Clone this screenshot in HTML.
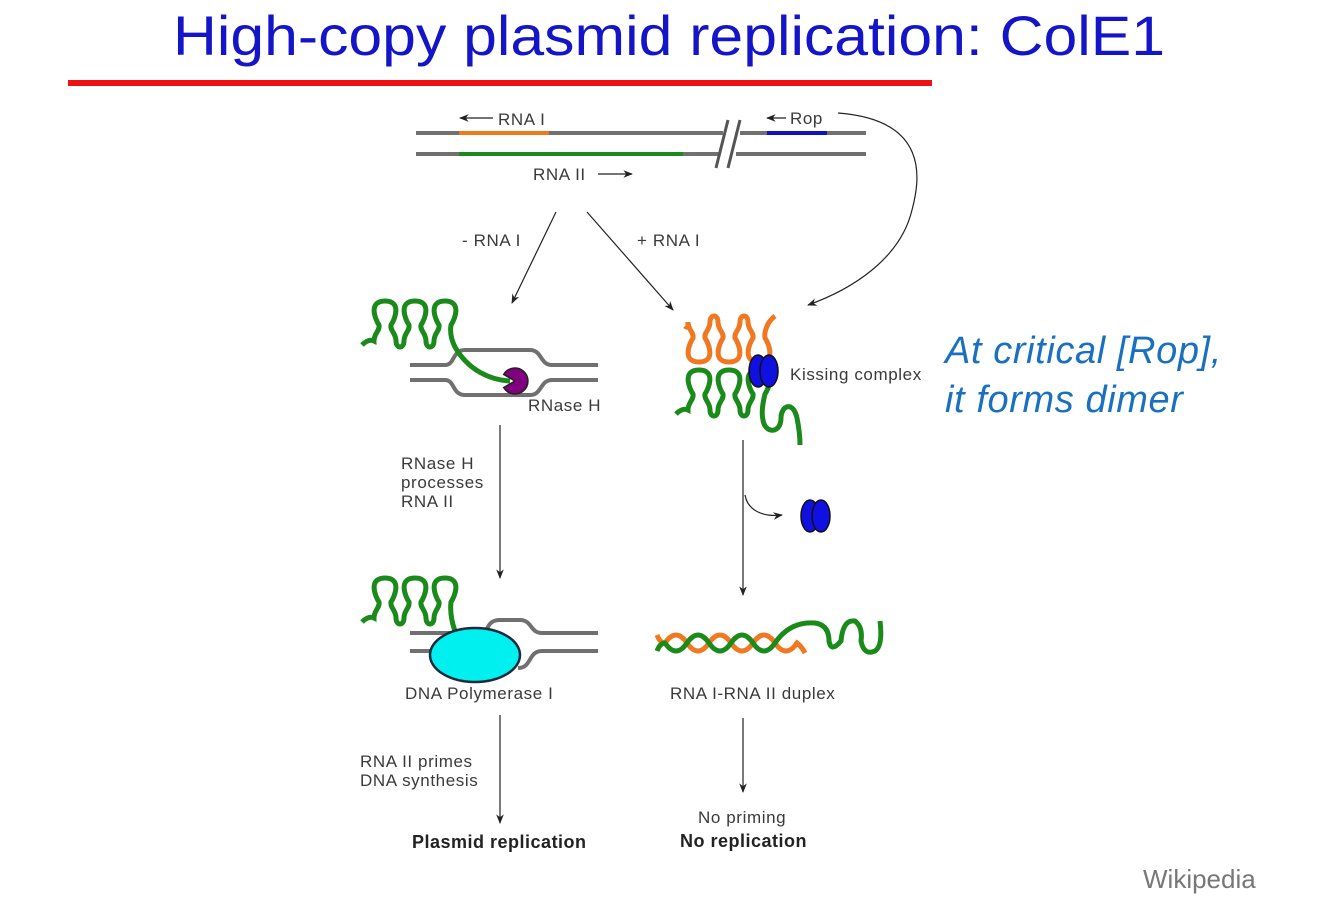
<!DOCTYPE html>
<html><head><meta charset="utf-8"><style>
body{margin:0;background:#fff}
svg{display:block}
text{font-family:"Liberation Sans",sans-serif}
.l{font-size:17px;fill:#3a3a3a;letter-spacing:0.6px}
.b{font-size:18px;font-weight:bold;fill:#222;letter-spacing:0.5px}
</style></head><body>
<svg width="1334" height="909" viewBox="0 0 1334 909">
<defs>
<marker id="a" viewBox="0 0 10 10" refX="9" refY="5" markerWidth="8" markerHeight="8" orient="auto"><path d="M0,1 L10,5 L0,9 L3,5z" fill="#222"/></marker>
</defs>
<text x="173" y="55" textLength="992" lengthAdjust="spacingAndGlyphs" style="font-size:56px;fill:#1414c8">High-copy plasmid replication: ColE1</text>
<rect x="68" y="80" width="864" height="6" fill="#ee1111"/>

<g stroke="#707070" stroke-width="4">
<line x1="416" y1="133" x2="723" y2="133"/><line x1="416" y1="154" x2="719" y2="154"/>
<line x1="740" y1="133" x2="866" y2="133"/><line x1="736" y1="154" x2="866" y2="154"/>
</g>
<g stroke="#555" stroke-width="3"><line x1="716" y1="168" x2="728" y2="120"/><line x1="728" y1="168" x2="740" y2="120"/></g>
<line x1="459" y1="133" x2="549" y2="133" stroke="#f07820" stroke-width="4"/>
<line x1="459" y1="154" x2="683" y2="154" stroke="#1a8a1a" stroke-width="4"/>
<line x1="767" y1="133" x2="827" y2="133" stroke="#1010c0" stroke-width="4"/>
<g stroke="#222" stroke-width="1.2" fill="none">
<line x1="493" y1="118" x2="460" y2="118" marker-end="url(#a)"/>
<line x1="786" y1="118" x2="767" y2="118" marker-end="url(#a)"/>
<line x1="598" y1="174" x2="632" y2="174" marker-end="url(#a)"/>
<line x1="556" y1="212" x2="512" y2="303" marker-end="url(#a)"/>
<line x1="587" y1="212" x2="673" y2="310" marker-end="url(#a)"/>
<path d="M838,113 C930,120 920,180 912,210 C900,260 850,290 808,305" marker-end="url(#a)"/>
<line x1="500" y1="425" x2="500" y2="578" marker-end="url(#a)"/>
<line x1="743" y1="440" x2="743" y2="595" marker-end="url(#a)"/>
<path d="M745,495 C748,512 765,517 782,515" marker-end="url(#a)"/>
<line x1="500" y1="715" x2="500" y2="823" marker-end="url(#a)"/>
<line x1="743" y1="718" x2="743" y2="792" marker-end="url(#a)"/>
</g>
<text class="l" x="498" y="125">RNA I</text>
<text class="l" x="790" y="124">Rop</text>
<text class="l" x="533" y="180">RNA II</text>
<text class="l" x="462" y="246">- RNA I</text>
<text class="l" x="637" y="246">+ RNA I</text>

<g stroke="#707070" stroke-width="4" fill="none">
<path d="M410,365 H445 C455,365 452,350 465,350 H530 C542,350 540,365 552,365 H598"/>
<path d="M410,380 H445 C455,380 452,395 465,395 H530 C542,395 540,380 552,380 H598"/>
</g>
<path d="M362,345 c4,-4 8,-6 12,-4 c0,-8 6,-10 5,-16 c-4,-6 -11,-24 6,-24 c17,0 10,18 6,24 c-1,6 5,8 5,16 c0,8 8,8 8,0 c0,-8 6,-10 5,-16 c-4,-6 -11,-24 6,-24 c17,0 10,18 6,24 c-1,6 5,8 5,16 c0,8 8,8 8,0 c0,-8 6,-10 5,-16 c-4,-6 -11,-24 6,-24 c17,0 10,18 6,24 c-1,6 0,14 4,22 C468,370 490,380 510,381" stroke="#1a8a1a" stroke-width="5" fill="none"/>
<path d="M515,381 L503.7,374.5 A13,13 0 1 1 503.7,387.5 Z" fill="#800080" stroke="#222" stroke-width="1.5"/>
<text class="l" x="528" y="411">RNase H</text>
<text class="l" x="401" y="469">RNase H</text>
<text class="l" x="401" y="488">processes</text>
<text class="l" x="401" y="507">RNA II</text>

<g transform="translate(688,322) scale(1,-1)">
<path d="M-3,-4 c2,-2 3,-2 3,4 c0,-8 6,-10 5,-16 c-4,-6 -11,-24 6,-24 c17,0 10,18 6,24 c-1,6 5,8 5,16 c0,8 8,8 8,0 c0,-8 6,-10 5,-16 c-4,-6 -11,-24 6,-24 c17,0 10,18 6,24 c-1,6 5,8 5,16 c0,8 8,8 8,0 c0,-8 6,-10 5,-16 c-4,-6 -11,-24 6,-24 c17,0 10,18 6,24 c-1,6 2,16 10,22" stroke="#f07820" stroke-width="5" fill="none"/>
</g>
<path d="M676,414 c4,-4 8,-6 12,-4 c0,-8 6,-10 5,-16 c-4,-6 -11,-24 6,-24 c17,0 10,18 6,24 c-1,6 5,8 5,16 c0,8 8,8 8,0 c0,-8 6,-10 5,-16 c-4,-6 -11,-24 6,-24 c17,0 10,18 6,24 c-1,6 5,8 5,16 c0,8 8,8 8,0 c0,-8 6,-10 5,-16 c-4,-6 -11,-24 6,-24 c17,0 10,18 6,24 c-2,8 -4,18 -2,26 c2,14 18,14 18,-2 c0,-12 12,-18 16,0 c2,10 3,20 3,27" stroke="#1a8a1a" stroke-width="5" fill="none"/>
<g fill="#1010e0" stroke="#111" stroke-width="1.5">
<ellipse cx="758" cy="371" rx="9" ry="16"/><ellipse cx="769" cy="371" rx="9" ry="16"/>
<ellipse cx="810" cy="516" rx="9" ry="16"/><ellipse cx="821" cy="516" rx="9" ry="16"/>
</g>
<text class="l" x="790" y="380">Kissing complex</text>
<text x="945" y="363" style="font-size:38px;font-style:italic;fill:#1a70c0;letter-spacing:0.6px">At critical [Rop],</text>
<text x="945" y="412" style="font-size:38px;font-style:italic;fill:#1a70c0;letter-spacing:0.6px">it forms dimer</text>

<g stroke="#707070" stroke-width="4" fill="none">
<path d="M410,633 H480 C490,633 485,620 500,620 H520 C532,620 530,633 542,633 H598"/>
<path d="M410,651 H480 M518,668 C532,668 528,651 542,651 H598"/>
</g>
<path d="M362,622 c4,-4 8,-6 12,-4 c0,-8 6,-10 5,-16 c-4,-6 -11,-24 6,-24 c17,0 10,18 6,24 c-1,6 5,8 5,16 c0,8 8,8 8,0 c0,-8 6,-10 5,-16 c-4,-6 -11,-24 6,-24 c17,0 10,18 6,24 c-1,6 5,8 5,16 c0,8 8,8 8,0 c0,-8 6,-10 5,-16 c-4,-6 -11,-24 6,-24 c17,0 10,18 6,24 c-1,8 0,26 10,40" stroke="#1a8a1a" stroke-width="5" fill="none"/>
<ellipse cx="475" cy="655" rx="45" ry="27" fill="#00f0f0" stroke="#1a2a3a" stroke-width="2.5"/>
<text class="l" x="405" y="699">DNA Polymerase I</text>
<text class="l" x="360" y="767">RNA II primes</text>
<text class="l" x="360" y="786">DNA synthesis</text>
<text class="b" x="412" y="848">Plasmid replication</text>

<path d="M657,635 q3,8 8,8 q11,-16 22,0 q11,16 22,0 q11,-16 22,0 q11,16 22,0 q11,-16 22,0 q11,16 22,0 q5,4 8,10" stroke="#f07820" stroke-width="5" fill="none"/>
<path d="M657,651 q3,-8 8,-8 q11,16 22,0 q11,-16 22,0 q11,16 22,0 q11,-16 22,0 q11,16 22,0 q15,-22 40,-20 q14,2 14,18 q2,12 12,0 q2,-22 14,-20 q8,6 6,20 q3,15 14,10 q8,-5 5,-30" stroke="#1a8a1a" stroke-width="5" fill="none"/>
<text class="l" x="670" y="699">RNA I-RNA II duplex</text>
<text class="l" x="698" y="823">No priming</text>
<text class="b" x="680" y="847">No replication</text>
<text x="1143" y="888" style="font-size:26px;fill:#777">Wikipedia</text>
</svg>
</body></html>
